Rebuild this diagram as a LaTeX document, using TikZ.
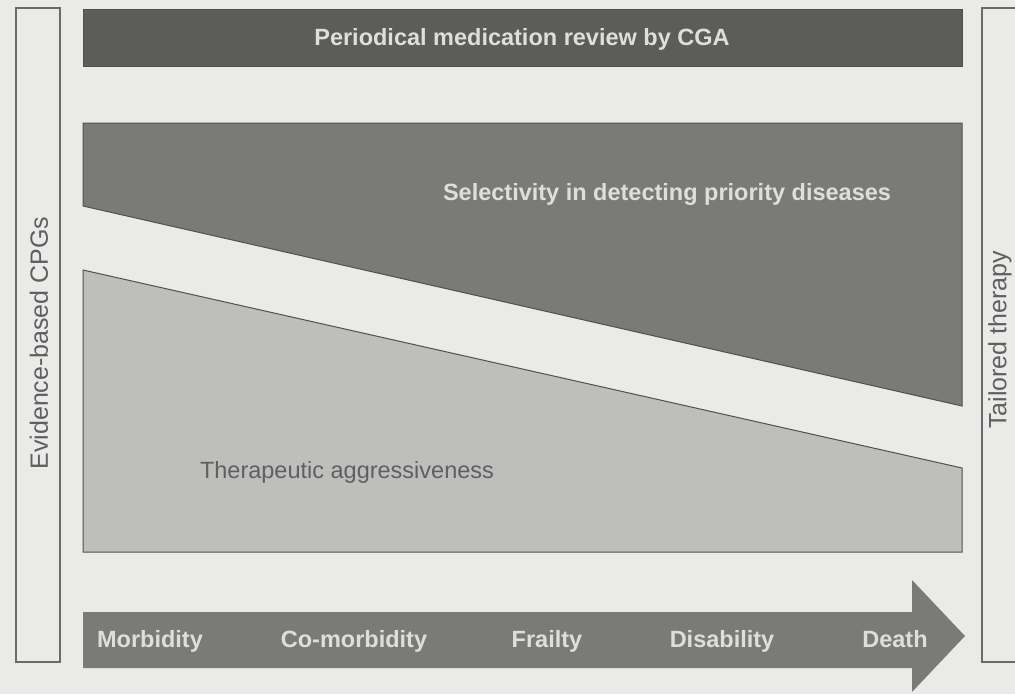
\documentclass[tikz,border=0pt]{standalone}
\usepackage{fontspec}
\setmainfont{Liberation Sans}
\usetikzlibrary{positioning}
\definecolor{paper}{RGB}{234,234,232}
\definecolor{darkband}{RGB}{92,93,91}
\definecolor{midband}{RGB}{122,123,121}
\definecolor{lightband}{RGB}{190,191,189}
\definecolor{edgegray}{RGB}{80,80,80}
\definecolor{labelgray}{RGB}{222,223,221}
\definecolor{textgray}{RGB}{95,95,95}
\tikzset{
    frame/.style = {draw=edgegray!85, line width=1.2pt},
    band/.style = {draw=edgegray, line width=1pt},
    boldlabel/.style = {text=labelgray, anchor=base, inner sep=0pt,
        font=\fontsize{23.5}{26}\selectfont\bfseries},
    plainlabel/.style = {text=textgray, anchor=base, inner sep=0pt,
        font=\fontsize{23.5}{26}\selectfont},
    sidelabel/.style = {text=textgray, rotate=90,
        font=\fontsize{25}{28}\selectfont}
}

\begin{document}
\begin{tikzpicture}[x=1pt, y=-1pt]
\fill[paper] (0,0) rectangle (1015,694);
\useasboundingbox (0,0) rectangle (1015,694);

% side frames
\draw[frame] (16,8) rectangle (60,662);
\draw[frame] (1016,8) -| (982,662) -- (1016,662);
\node (ebm) [sidelabel] at (39,343) {Evidence-based CPGs};
\node (tailored) [sidelabel] at (1000,340) {Tailored therapy};

% top bar
\filldraw[band, fill=darkband] (83,9) rectangle (962,66);
\node (review) [boldlabel] at (522,45) {Periodical medication review by CGA};

% the two wedges
\filldraw[band, fill=midband] (83,123) -- (962,123) -- (962,406) -- (83,206) -- cycle;
\node (select) [boldlabel] at (667,200) {Selectivity in detecting priority diseases};
\filldraw[band, fill=lightband] (83,270) -- (962,468) -- (962,552) -- (83,552) -- cycle;
\node (aggr) [plainlabel] at (347,478) {Therapeutic aggressiveness};

% time course arrow
\fill[midband] (83,612) -- (912,612) -- (912,580) -- (965,636) -- (912,692)
    -- (912,668) -- (83,668) -- cycle;
\foreach \name/\x/\txt in {morb/150/Morbidity, comorb/354/Co-morbidity,
    frail/547/Frailty, disab/722/Disability, death/895/Death}
    \node (\name) [boldlabel] at (\x,647) {\txt};
\end{tikzpicture}
\end{document}
